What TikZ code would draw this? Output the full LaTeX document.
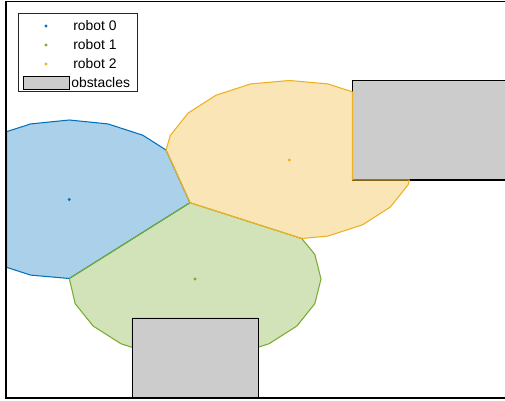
\documentclass[tikz,border=0pt]{standalone}
\usepackage{fontspec}
\setmainfont{Liberation Sans}
\usepackage{tikz}
\definecolor{botBlue}{HTML}{0072BD}
\definecolor{botGreen}{HTML}{77AC30}
\definecolor{botYellow}{HTML}{EDB120}
\definecolor{obsGray}{HTML}{CCCCCC}
\definecolor{axisDark}{HTML}{262626}
\tikzset{
  cell/.style={draw=#1,fill=#1,fill opacity=0.33,line width=0.6pt,line join=round},
  obstacle/.style={draw=black,fill=obsGray,line width=0.8pt},
  robotdot/.style={circle,fill=#1,inner sep=0pt,minimum size=1.9pt},
  axisframe/.style={draw=black,line width=0.8pt},
  legbox/.style={draw=axisDark,fill=white,line width=0.5pt},
  legtext/.style={anchor=west,inner sep=0pt,text=black,font=\fontsize{7.9}{9}\selectfont}
}

\begin{document}
\begin{tikzpicture}[x=0.02cm,y=-0.02cm]
  \useasboundingbox (0,0) rectangle (505,400);
  \clip (0,0) rectangle (505,400);
  \fill[white] (0,0) rectangle (505,400);
  \path[cell=botBlue] (6.5,131.7) -- (30.7,123.9) -- (69.3,120) -- (107.9,123.9) -- (142.8,135.2)
    -- (166,150) -- (190,202.7) -- (69.3,278.5) -- (30.7,275.1) -- (6.5,267.3) -- cycle;
  \path[cell=botGreen] (190,202.7) -- (301.7,238.5) -- (314.8,254.3) -- (321,279) -- (314.8,303.7)
    -- (296.9,326) -- (269.1,343.7) -- (258.3,347.2) -- (258.3,318.3) -- (132.3,318.3)
    -- (132.3,347.4) -- (120.9,343.7) -- (93.1,326) -- (75.2,303.7) -- (69.3,278.5) -- cycle;
  \path[obstacle] (132.3,318.3) rectangle (258.3,398);
  \path[obstacle] (352.5,80.7) rectangle (530,179.8);
  \path[cell=botYellow] (166,150) -- (170.4,135.3) -- (188.2,113) -- (215.8,95.3) -- (250.7,83.9)
    -- (289.3,80.5) -- (327.9,83.9) -- (352.5,91.9) -- (352.5,179.8) -- (409.3,179.8)
    -- (408.2,184.7) -- (390.4,207) -- (362.8,224.7) -- (327.9,236.1) -- (301.7,238.5)
    -- (190,202.7) -- cycle;
  \node[robotdot=botBlue] (r0) at (69.3,199.5) {};
  \node[robotdot=botGreen] (r1) at (195,279) {};
  \node[robotdot=botYellow] (r2) at (289.3,160) {};
  \draw[axisframe] (530,1.5) -- (6,1.5) -- (6,398) -- (530,398);
  \path[legbox] (18.3,13.3) rectangle (137,91);
  \node[robotdot=botBlue] (m0) at (46,26) {};
  \node[robotdot=botGreen] (m1) at (46,45) {};
  \node[robotdot=botYellow] (m2) at (46,64) {};
  \node[draw=black,fill=obsGray,line width=0.5pt,minimum width=0.92cm,minimum height=0.26cm,
    inner sep=0pt] (m3) at (46,82.5) {};
  \node[legtext] (t0) at (73,26) {robot 0};
  \node[legtext] (t1) at (73,45) {robot 1};
  \node[legtext] (t2) at (73,64) {robot 2};
  \node[legtext] (t3) at (71,82.5) {obstacles};
\end{tikzpicture}
\end{document}
